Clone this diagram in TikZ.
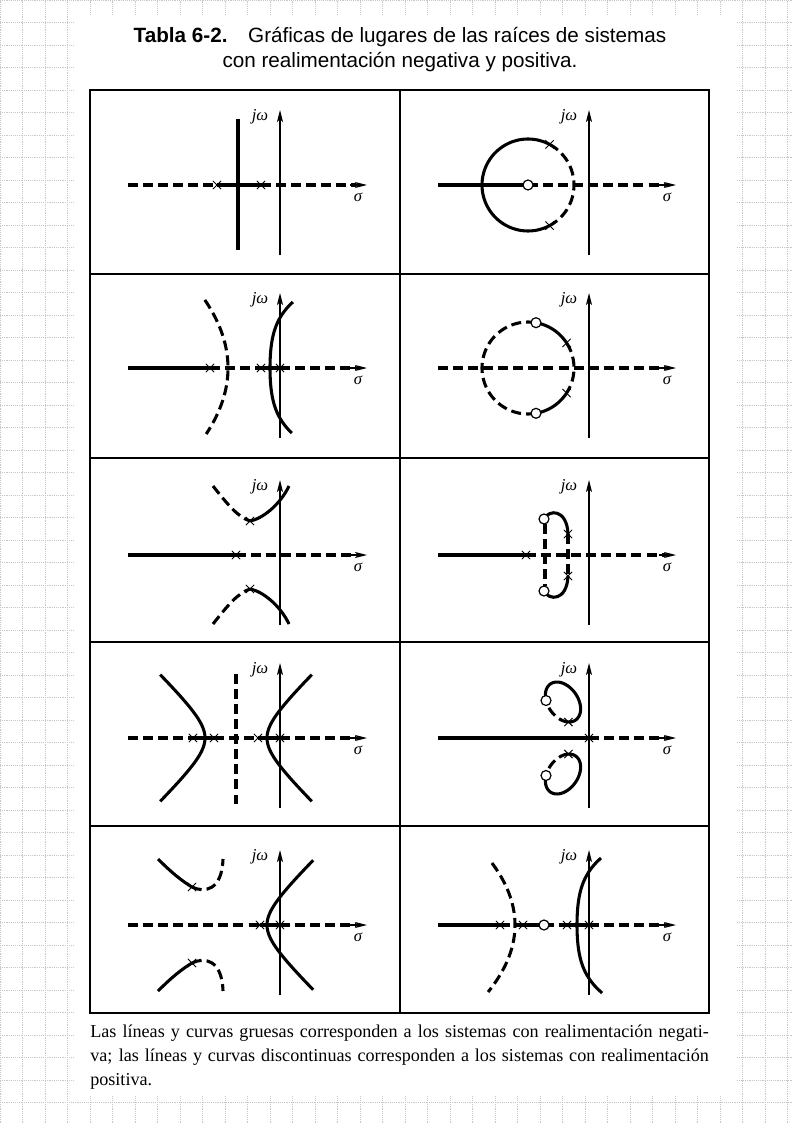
\documentclass[tikz,border=0pt]{standalone}
\usepackage{fontspec}
\setmainfont{Liberation Serif}
\newfontfamily\titlefont{Liberation Sans}
\usetikzlibrary{arrows.meta,shapes.misc}

\begin{document}
\begin{tikzpicture}[x=0.75pt,y=-0.75pt,
  lneg/.style={line width=2.3pt},
  lpos/.style={line width=2.3pt, dash pattern=on 7.5pt off 3.8pt},
  eje/.style={line width=0.9pt, -{Stealth[length=9pt,width=4.5pt,inset=2pt]}},
  marco/.style={line width=1.1pt},
  polo/.style={cross out, draw, line width=0.7pt, minimum size=5.5pt, inner sep=0pt},
  cero/.style={circle, draw, line width=0.9pt, fill=white, minimum size=7.5pt, inner sep=0pt},
  etq/.style={font=\fontsize{12.5}{12.5}\selectfont\itshape, inner sep=0pt}
]
\useasboundingbox (0,0) rectangle (793,1123);
% hoja cuadriculada de fondo
\draw[black!22, line width=0.4pt, densely dotted, step=16.875pt] (0,0) grid (793,1123);
\fill[white] (75,15) rectangle (736,1095);

\node[font=\titlefont\fontsize{15.5}{18.75}\selectfont, align=center] (titulo) at (400,50)
  {\textbf{Tabla 6-2.}\quad Gráficas de lugares de las raíces de sistemas\\con realimentación negativa y positiva.};

% tabla
\draw[marco] (90,90) rectangle (709,1013);
\draw[marco] (400,90) -- (400,1013);
\foreach \yy in {274,458,642,826} \draw[marco] (90,\yy) -- (709,\yy);

% ejes s
\foreach \ox/\oy [count=\i] in {280/185,589/185,280/368,589/368,280/555,589/555,280/738,589/738,280/925,589/925}{
  \draw[eje] (\ox,\oy+70) -- (\ox,\oy-75);
  \draw[eje] (\ox+70,\oy) -- (\ox+87,\oy);
  \node[etq] (jw\i) at (\ox-20,\oy-68) {jω};
  \node[etq] (sg\i) at (\ox+78,\oy+12) {σ};
}

% 1
\begin{scope}[shift={(280,185)}]
\draw[lpos] (-152,0) -- (-63,0);
\draw[lneg] (-63,0) -- (-19,0);
\draw[lpos] (-19,0) -- (76,0);
\draw[lneg] (-42,-66) -- (-42,65);
\node[polo] (p1a) at (-63,0) {};
\node[polo] (p1b) at (-19,0) {};
\end{scope}

% 2
\begin{scope}[shift={(589,185)}]
\draw[lneg] (-151,0) -- (-61,0);
\draw[lpos] (-61,0) -- (76,0);
\draw[lneg] plot[domain=62:298, samples=60, smooth] ({-61+46*cos(\x)},{46*sin(\x)});
\draw[lpos] plot[domain=-62:62, samples=30, smooth] ({-61+46*cos(\x)},{46*sin(\x)});
\node[polo] (p2a) at ({-61+46*cos(62)},{-46*sin(62)}) {};
\node[polo] (p2b) at ({-61+46*cos(62)},{46*sin(62)}) {};
\node[cero] (z2) at (-61,0) {};
\end{scope}

% 3
\begin{scope}[shift={(280,368)}]
\draw[lneg] (-152,0) -- (-70,0);
\draw[lpos] (-70,0) -- (-19,0);
\draw[lneg] (-19,0) -- (0,0);
\draw[lpos] (0,0) -- (76,0);
\draw[lpos] plot[domain=-68:66, samples=40, smooth] ({-52-0.005*\x*\x},\x);
\draw[lneg] plot[domain=-66:65, samples=40, smooth] ({-10+0.0022*\x*\x+0.007*(\x*\x/100)^2},\x);
\node[polo] (p3a) at (-70,0) {};
\node[polo] (p3b) at (-19,0) {};
\node[polo] (p3c) at (0,0) {};
\end{scope}

% 4
\begin{scope}[shift={(589,368)}]
\draw[lpos] (-151,0) -- (76,0);
\draw[lpos] plot[domain=-33:33, samples=30, smooth] ({-61+46*cos(\x)},{46*sin(\x)});
\draw[lpos] plot[domain=80:280, samples=60, smooth] ({-61+46*cos(\x)},{46*sin(\x)});
\draw[lneg] plot[domain=-80:-33, samples=20, smooth] ({-61+46*cos(\x)},{46*sin(\x)});
\draw[lneg] plot[domain=33:80, samples=20, smooth] ({-61+46*cos(\x)},{46*sin(\x)});
\node[polo] (p4a) at ({-61+46*cos(33)},{-46*sin(33)}) {};
\node[polo] (p4b) at ({-61+46*cos(33)},{46*sin(33)}) {};
\node[cero] (z4a) at ({-61+46*cos(80)},{-46*sin(80)}) {};
\node[cero] (z4b) at ({-61+46*cos(80)},{46*sin(80)}) {};
\end{scope}

% 5
\begin{scope}[shift={(280,555)}]
\draw[lneg] (-152,0) -- (-44,0);
\draw[lpos] (-44,0) -- (76,0);
\draw[lpos] (-67,-69) .. controls (-52,-50) and (-42,-38) .. (-30,-34);
\draw[lneg] (-30,-34) .. controls (-18,-36) and (0,-50) .. (9,-69);
\draw[lpos] (-67,69) .. controls (-52,50) and (-42,38) .. (-30,34);
\draw[lneg] (-30,34) .. controls (-18,36) and (0,50) .. (9,69);
\node[polo] (p5a) at (-44,0) {};
\node[polo] (p5b) at (-30,-34) {};
\node[polo] (p5c) at (-30,34) {};
\end{scope}

% 6
\begin{scope}[shift={(589,555)}]
\draw[lneg] (-151,0) -- (-63,0);
\draw[lpos] (-63,0) -- (76,0);
\draw[lneg] (-45,-36) .. controls (-40,-46) and (-22,-46) .. (-21,-21);
\draw[lneg] (-45,36) .. controls (-40,46) and (-22,46) .. (-21,21);
\draw[lpos] (-44,-31) -- (-44,31);
\draw[lpos] (-21,-21) -- (-21,21);
\node[polo] (p6a) at (-63,0) {};
\node[polo] (p6b) at (-21,-21) {};
\node[polo] (p6c) at (-21,21) {};
\node[cero] (z6a) at (-45,-36) {};
\node[cero] (z6b) at (-45,36) {};
\end{scope}

% 7
\begin{scope}[shift={(280,738)}]
\draw[lpos] (-152,0) -- (-87,0);
\draw[lneg] (-87,0) -- (-66,0);
\draw[lpos] (-66,0) -- (-22,0);
\draw[lneg] (-22,0) -- (0,0);
\draw[lpos] (0,0) -- (76,0);
\draw[lneg] plot[domain=-1.66:1.66, samples=40, smooth] ({-49-26*cosh(\x)},{25*sinh(\x)});
\draw[lneg] plot[domain=-1.66:1.66, samples=40, smooth] ({-39+26*cosh(\x)},{25*sinh(\x)});
\draw[lpos] (-44,-64) -- (-44,66);
\node[polo] (p7a) at (-87,0) {};
\node[polo] (p7b) at (-66,0) {};
\node[polo] (p7c) at (-22,0) {};
\node[polo] (p7d) at (0,0) {};
\end{scope}

% 8
\begin{scope}[shift={(589,738)}]
\draw[lneg] (-151,0) -- (0,0);
\draw[lpos] (0,0) -- (76,0);
\draw[lneg] plot[domain=120:388, samples=50, smooth] ({-26+12.63*cos(\x)-12.29*sin(\x)},{-36+18.02*cos(\x)+8.61*sin(\x)});
\draw[lpos] plot[domain=28:120, samples=20, smooth] ({-26+12.63*cos(\x)-12.29*sin(\x)},{-36+18.02*cos(\x)+8.61*sin(\x)});
\draw[lneg] plot[domain=120:388, samples=50, smooth] ({-26+12.63*cos(\x)-12.29*sin(\x)},{36-18.02*cos(\x)-8.61*sin(\x)});
\draw[lpos] plot[domain=28:120, samples=20, smooth] ({-26+12.63*cos(\x)-12.29*sin(\x)},{36-18.02*cos(\x)-8.61*sin(\x)});
\node[polo] (p8a) at (0,0) {};
\node[polo] (p8b) at (-20.6,-16) {};
\node[polo] (p8c) at (-20.6,16) {};
\node[cero] (z8a) at (-43,-37.5) {};
\node[cero] (z8b) at (-43,37.5) {};
\end{scope}

% 9
\begin{scope}[shift={(280,925)}]
\draw[lpos] (-152,0) -- (-20,0);
\draw[lneg] (-20,0) -- (0,0);
\draw[lpos] (0,0) -- (76,0);
\draw[lneg] plot[domain=-1.68:1.68, samples=40, smooth] ({-39+26*cosh(\x)},{25*sinh(\x)});
\draw[lneg] (-122,-66) .. controls (-108,-52) and (-98,-44) .. (-88,-38);
\draw[lpos] (-88,-38) .. controls (-76,-32) and (-58,-34) .. (-57,-66);
\draw[lneg] (-122,66) .. controls (-108,52) and (-98,44) .. (-88,38);
\draw[lpos] (-88,38) .. controls (-76,32) and (-58,34) .. (-57,66);
\node[polo] (p9a) at (-20,0) {};
\node[polo] (p9b) at (0,0) {};
\node[polo] (p9c) at (-88,-38) {};
\node[polo] (p9d) at (-88,38) {};
\end{scope}

% 10
\begin{scope}[shift={(589,925)}]
\draw[lneg] (-151,0) -- (-89,0);
\draw[lpos] (-89,0) -- (-66,0);
\draw[lneg] (-66,0) -- (-45,0);
\draw[lpos] (-45,0) -- (-22,0);
\draw[lneg] (-22,0) -- (0,0);
\draw[lpos] (0,0) -- (76,0);
\draw[lpos] plot[domain=-62:67, samples=40, smooth] ({-74-0.006*\x*\x},\x);
\draw[lneg] plot[domain=-67:68, samples=40, smooth] ({-12+0.0022*\x*\x+0.007*(\x*\x/100)^2},\x);
\node[polo] (p10a) at (-89,0) {};
\node[polo] (p10b) at (-66,0) {};
\node[polo] (p10c) at (-22,0) {};
\node[polo] (p10d) at (0,0) {};
\node[cero] (z10) at (-45,0) {};
\end{scope}

\node[anchor=north west, inner sep=0pt, text width=464pt, align=justify, font=\fontsize{13.6}{18}\selectfont] (nota) at (90,1025)
  {Las líneas y curvas gruesas corresponden a los sistemas con realimentación negati-\linebreak va; las líneas y curvas discontinuas corresponden a los sistemas con realimentación\linebreak positiva.};
\end{tikzpicture}
\end{document}
